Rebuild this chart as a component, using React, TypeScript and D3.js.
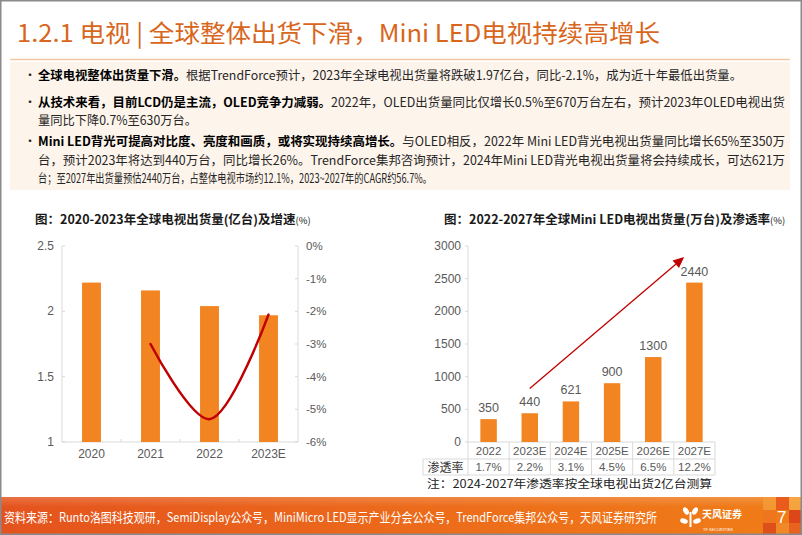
import React from 'react';
import * as d3 from 'd3';

// ---------- data ----------
const tvYears = ['2020', '2021', '2022', '2023E'];
const tvShipments = [2.22, 2.16, 2.04, 1.97];
const tvGrowthYears = ['2021', '2022', '2023E'];
const tvGrowth = [-3.0, -5.3, -2.1];
const tvLeftTicks = [1, 1.5, 2, 2.5];
const tvRightTicks = [0, -1, -2, -3, -4, -5, -6];

const miniYears = ['2022', '2023E', '2024E', '2025E', '2026E', '2027E'];
const miniShipments = [350, 440, 621, 900, 1300, 2440];
const miniPenetration = ['1.7%', '2.2%', '3.1%', '4.5%', '6.5%', '12.2%'];
const miniTicks = [0, 500, 1000, 1500, 2000, 2500, 3000];
// trend arrow in data space: [category, band offset, value]
const arrowFrom: [string, number, number] = ['2023E', 0, 820];
const arrowTo: [string, number, number] = ['2027E', -0.25, 2830];

const titleText = '1.2.1 电视 | 全球整体出货下滑，Mini LED电视持续高增长';
const leftTitle = '图：2020-2023年全球电视出货量(亿台)及增速';
const rightTitle = '图：2022-2027年全球Mini LED电视出货量(万台)及渗透率';
const noteText = '注：2024-2027年渗透率按全球电视出货2亿台测算';
const sourceText = '资料来源：Runto洛图科技观研，SemiDisplay公众号，MiniMicro LED显示产业分会公众号，TrendForce集邦公众号，天风证券研究所';

type Seg = { t: string; b?: boolean };
const bodyLines: { segs: Seg[]; bullet: boolean; len: number; y: number }[] = [
  { bullet: true, y: 80, len: 704, segs: [{ t: '全球电视整体出货量下滑。', b: true }, { t: '根据TrendForce预计，2023年全球电视出货量将跌破1.97亿台，同比-2.1%，成为近十年最低出货量。' }] },
  { bullet: true, y: 107, len: 747, segs: [{ t: '从技术来看，目前LCD仍是主流，OLED竞争力减弱。', b: true }, { t: '2022年，OLED出货量同比仅增长0.5%至670万台左右，预计2023年OLED电视出货' }] },
  { bullet: false, y: 125, len: 159, segs: [{ t: '量同比下降0.7%至630万台。' }] },
  { bullet: true, y: 146, len: 747, segs: [{ t: 'Mini LED背光可提高对比度、亮度和画质，或将实现持续高增长。', b: true }, { t: '与OLED相反，2022年 Mini LED背光电视出货量同比增长65%至350万' }] },
  { bullet: false, y: 165, len: 747, segs: [{ t: '台，预计2023年将达到440万台，同比增长26%。TrendForce集邦咨询预计，2024年Mini LED背光电视出货量将会持续成长，可达621万' }] },
  { bullet: false, y: 183, len: 394, segs: [{ t: '台；至2027年出货量预估2440万台，占整体电视市场约12.1%，2023~2027年的CAGR约56.7%。' }] },
];

const CJK = '"Noto Sans CJK SC", "Noto Sans", sans-serif';
const NUM = '"Liberation Sans Narrow", "Liberation Sans", "Noto Sans", sans-serif';
const ORANGE = '#F28421';
const RED = '#C00000';
const AXIS = '#D9D9D9';
const LABEL = '#595959';

function LeftChart() {
  const x = d3.scaleBand<string>().domain(tvYears).range([62, 298]).paddingInner(0.68).paddingOuter(0.34);
  const yL = d3.scaleLinear().domain([1, 2.5]).range([442, 246]);
  const yR = d3.scaleLinear().domain([-6, 0]).range([442, 246]);
  const bw = x.bandwidth();
  const line = d3
    .line<number>()
    .x((_, i) => (x(tvGrowthYears[i]) as number) + bw / 2)
    .y((d) => yR(d))
    .curve(d3.curveCatmullRom.alpha(0.5));
  const [x0, x1] = x.range();
  const [yb, yt] = yL.range();
  return (
    <g>
      <text x={35} y={224} fontFamily={CJK} fontWeight={700} fontSize={12.5} fill="#1a1a1a">
        {leftTitle}
        <tspan fontSize={9.5} fontWeight={400}>(%)</tspan>
      </text>
      <line x1={x0} x2={x0} y1={yt} y2={yb} stroke={AXIS} />
      <line x1={x1} x2={x1} y1={yt} y2={yb} stroke={AXIS} />
      <line x1={x0} x2={x1} y1={yb} y2={yb} stroke={AXIS} />
      {tvLeftTicks.map((t) => (
        <g key={'l' + t}>
          <line x1={x0} x2={x0 + 3} y1={yL(t)} y2={yL(t)} stroke={AXIS} />
          <text x={54} y={yL(t) + 4} textAnchor="end" fontFamily={NUM} fontSize={12} fill={LABEL}>
            {t}
          </text>
        </g>
      ))}
      {tvRightTicks.map((t) => (
        <g key={'r' + t}>
          <line x1={x1 - 3} x2={x1} y1={yR(t)} y2={yR(t)} stroke={AXIS} />
          <text x={306} y={yR(t) + 4} fontFamily={NUM} fontSize={11.5} fill={LABEL}>
            {t === 0 ? '0%' : `-${Math.abs(t)}%`}
          </text>
        </g>
      ))}
      {tvYears.slice(1).map((c) => (
        <line key={'tk' + c} x1={(x(c) as number) - (x.step() - bw) / 2} x2={(x(c) as number) - (x.step() - bw) / 2} y1={yb - 3} y2={yb} stroke={AXIS} />
      ))}
      {tvYears.map((c, i) => (
        <g key={c}>
          <rect x={x(c)} y={yL(tvShipments[i])} width={bw} height={yb - yL(tvShipments[i])} fill={ORANGE} />
          <text x={(x(c) as number) + bw / 2} y={458} textAnchor="middle" fontFamily={NUM} fontSize={12} fill={LABEL}>
            {c}
          </text>
        </g>
      ))}
      <path d={line(tvGrowth) || ''} fill="none" stroke={RED} strokeWidth={2.5} strokeLinecap="round" />
    </g>
  );
}

function RightChart() {
  const x = d3.scaleBand<string>().domain(miniYears).range([468, 715]).paddingInner(0.6).paddingOuter(0.3);
  const y = d3.scaleLinear().domain([0, 3000]).range([442, 246]);
  const bw = x.bandwidth();
  const step = x.step();
  const [x0, x1] = x.range();
  const [yb, yt] = y.range();
  const px = (a: [string, number, number]) => (x(a[0]) as number) + bw / 2 + a[1] * step;
  const ax1 = px(arrowFrom), ay1 = y(arrowFrom[2]);
  const ax2 = px(arrowTo), ay2 = y(arrowTo[2]);
  const ang = Math.atan2(ay2 - ay1, ax2 - ax1);
  const hl = 11, hw = 5;
  const bx = ax2 - hl * Math.cos(ang), by = ay2 - hl * Math.sin(ang);
  const head = `M${ax2},${ay2} L${bx + hw * Math.sin(ang)},${by - hw * Math.cos(ang)} L${bx - hw * Math.sin(ang)},${by + hw * Math.cos(ang)} Z`;
  const tableLeft = 423;
  const row1 = 459, row2 = 475;
  return (
    <g>
      <text x={444} y={224} fontFamily={CJK} fontWeight={700} fontSize={12.5} fill="#1a1a1a">
        {rightTitle}
        <tspan fontSize={9.5} fontWeight={400}>(%)</tspan>
      </text>
      <line x1={x0} x2={x0} y1={yt} y2={row2} stroke={AXIS} />
      <line x1={x0} x2={x1} y1={yb} y2={yb} stroke={AXIS} />
      <line x1={tableLeft} x2={x1} y1={row1} y2={row1} stroke={AXIS} />
      <line x1={tableLeft} x2={x1} y1={row2} y2={row2} stroke={AXIS} />
      <line x1={tableLeft} x2={tableLeft} y1={row1} y2={row2} stroke={AXIS} />
      {miniYears.map((c) => (
        <line key={'v' + c} x1={(x(c) as number) - (step - bw) / 2 + step} x2={(x(c) as number) - (step - bw) / 2 + step} y1={yb} y2={row2} stroke={AXIS} />
      ))}
      {miniTicks.map((t) => (
        <g key={t}>
          <line x1={x0 - 3} x2={x0} y1={y(t)} y2={y(t)} stroke={AXIS} />
          <text x={461} y={y(t) + 4} textAnchor="end" fontFamily={NUM} fontSize={12} fill={LABEL}>
            {t}
          </text>
        </g>
      ))}
      {miniYears.map((c, i) => {
        const cx = (x(c) as number) + bw / 2;
        return (
          <g key={c}>
            <rect x={x(c)} y={y(miniShipments[i])} width={bw} height={yb - y(miniShipments[i])} fill={ORANGE} />
            <text x={cx} y={y(miniShipments[i]) - 7} textAnchor="middle" fontFamily={NUM} fontSize={12.5} fill={LABEL}>
              {miniShipments[i]}
            </text>
            <text x={cx} y={455} textAnchor="middle" fontFamily={NUM} fontSize={11.5} fill={LABEL}>
              {c}
            </text>
            <text x={cx} y={471} textAnchor="middle" fontFamily={NUM} fontSize={11.5} fill={LABEL}>
              {miniPenetration[i]}
            </text>
          </g>
        );
      })}
      <text x={(tableLeft + x0) / 2} y={471.5} textAnchor="middle" fontFamily={CJK} fontSize={12} fill="#333">
        渗透率
      </text>
      <line x1={ax1} y1={ay1} x2={bx} y2={by} stroke={RED} strokeWidth={1.3} />
      <path d={head} fill={RED} />
      <text x={427} y={488} fontFamily={CJK} fontSize={11.5} fill="#222" textLength={285} lengthAdjust="spacingAndGlyphs">
        {noteText}
      </text>
    </g>
  );
}

function Footer() {
  const squares = [
    { x: 763, y: 497, w: 13, h: 13, c: '#F39A35' },
    { x: 776, y: 497, w: 13, h: 13, c: '#E8561C' },
    { x: 789, y: 497, w: 13, h: 13, c: '#F6A743' },
    { x: 763, y: 510, w: 13, h: 13, c: '#EE7420' },
    { x: 789, y: 510, w: 13, h: 13, c: '#D9401A' },
    { x: 763, y: 523, w: 13, h: 12, c: '#DD4A1B' },
    { x: 776, y: 523, w: 13, h: 12, c: '#F08A2A' },
    { x: 789, y: 523, w: 13, h: 12, c: '#E66120' },
  ];
  return (
    <g>
      <defs>
        <linearGradient id="foot" x1="0" x2="1" y1="0" y2="0">
          <stop offset="0" stopColor="#E4531D" />
          <stop offset="0.5" stopColor="#EC6A1B" />
          <stop offset="1" stopColor="#F07D17" />
        </linearGradient>
        <linearGradient id="footTop" x1="0" x2="0" y1="0" y2="1">
          <stop offset="0" stopColor="#ffffff" stopOpacity={0.18} />
          <stop offset="1" stopColor="#ffffff" stopOpacity={0} />
        </linearGradient>
      </defs>
      <rect x={0} y={497} width={802} height={38} fill="url(#foot)" />
      <rect x={0} y={497} width={802} height={10} fill="url(#footTop)" />
      {squares.map((s, i) => (
        <rect key={i} x={s.x} y={s.y} width={s.w} height={s.h} fill={s.c} opacity={0.9} />
      ))}
      <text x={4} y={522} fontFamily={CJK} fontSize={13} fill="#fff" textLength={653} lengthAdjust="spacingAndGlyphs">
        {sourceText}
      </text>
      <g fill="#fff">
        <ellipse cx={686} cy={511} rx={2.5} ry={4} transform="rotate(-30 686 511)" />
        <ellipse cx={695} cy={511} rx={2.5} ry={4} transform="rotate(30 695 511)" />
        <ellipse cx={684} cy={521} rx={4} ry={2.5} transform="rotate(20 684 521)" />
        <ellipse cx={697} cy={521} rx={4} ry={2.5} transform="rotate(-20 697 521)" />
        <rect x={689.5} y={512} width={2} height={15} />
      </g>
      <text x={702} y={518} fontFamily={CJK} fontWeight={700} fontSize={10} fill="#fff">
        天风证券
        <tspan x={703} y={530.5} fontFamily={NUM} fontWeight={400} fontSize={4}>
          TF SECURITIES
        </tspan>
      </text>
      <text x={777} y={523} fontFamily={NUM} fontSize={17} fill="#fff">
        7
      </text>
    </g>
  );
}

export default function App() {
  return (
    <svg
      width={802}
      height={535}
      viewBox="0 0 802 535"
      style={{ position: 'absolute', left: 0, top: 0, display: 'block' }}
    >
      <rect x={0} y={0} width={802} height={535} fill="#fff" />
      <text x={17} y={42} fontFamily={CJK} fontSize={24} fill="#D8661C" textLength={643} lengthAdjust="spacingAndGlyphs">
        {titleText}
      </text>
      <line x1={10} x2={790} y1={59.5} y2={59.5} stroke="#F2C7A2" strokeWidth={1.5} />
      <rect x={10} y={62} width={780} height={128} fill="#FDF4EB" />
      {bodyLines.map((l, i) => (
        <g key={i}>
          {l.bullet && (
            <text x={24} y={l.y} fontFamily={CJK} fontSize={12} fill="#222">
              •
            </text>
          )}
          <text x={38} y={l.y} fontFamily={CJK} fontSize={12.5} fill="#1a1a1a" textLength={l.len} lengthAdjust="spacingAndGlyphs">
            {l.segs.map((s, j) => (
              <tspan key={j} fontWeight={s.b ? 700 : 400} fill={s.b ? '#000' : '#262626'}>
                {s.t}
              </tspan>
            ))}
          </text>
        </g>
      ))}
      <LeftChart />
      <RightChart />
      <Footer />
      <rect x={0.75} y={0.75} width={800.5} height={533.5} fill="none" stroke="#8a8a8a" strokeWidth={1.5} />
    </svg>
  );
}
